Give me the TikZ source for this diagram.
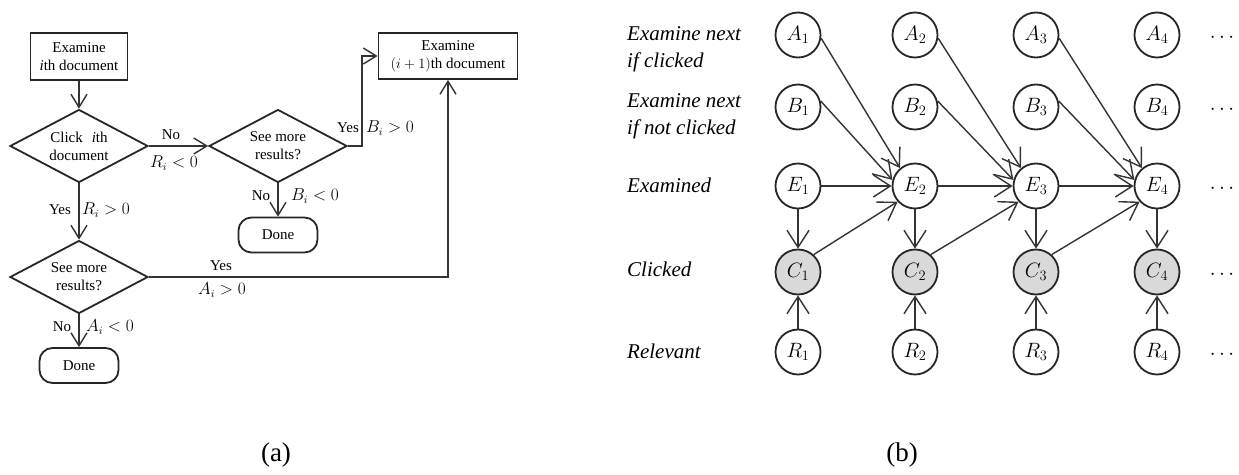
\documentclass[tikz,border=0pt]{standalone}
\usepackage{fontspec}
\setmainfont{Liberation Serif}
\usetikzlibrary{shapes.geometric,arrows.meta}
\newcommand{\flowfont}{\fontsize{15}{18}\selectfont}
\newcommand{\mathlabelfont}{\fontsize{16}{18}\selectfont}
\newcommand{\rowfont}{\fontsize{21}{27}\selectfont\itshape}
\newcommand{\varfont}{\fontsize{22}{22}\selectfont}
\newcommand{\capfont}{\fontsize{27}{27}\selectfont}
\begin{document}
\begin{tikzpicture}[x=1pt,y=-1pt,
  ink/.style={draw=black!85, line width=1.8pt},
  procbox/.style={ink, rectangle, align=center, inner sep=0pt, font=\flowfont},
  decision/.style={ink, diamond, shape aspect=1.9, align=center, inner sep=0pt,
    minimum width=138pt, minimum height=73pt, font=\flowfont},
  endbox/.style={ink, rectangle, rounded corners=13pt, inner sep=0pt,
    minimum width=79pt, minimum height=35pt, font=\flowfont},
  elabel/.style={inner sep=0pt, font=\flowfont},
  mlabel/.style={inner sep=0pt, font=\mathlabelfont},
  farrow/.style={draw=black!80, line width=1.4pt,
    -{Straight Barb[length=13pt,width=16pt]}},
  var/.style={ink, circle, minimum size=45pt, inner sep=0pt, font=\varfont},
  barrow/.style={draw=black!80, line width=1.4pt,
    -{Straight Barb[length=17pt,width=22pt]}},
  rowlabel/.style={anchor=west, align=left, inner sep=0pt, font=\rowfont},
  dotlabel/.style={inner sep=0pt, font=\varfont},
  caption/.style={inner sep=0pt, font=\capfont}]
\useasboundingbox (0,0) rectangle (1239,474);

% ---- (a) flowchart of the click model ----
\node[procbox, minimum width=97pt, minimum height=47pt] (exi) at (79,56.5)
  {Examine\\\textit{i}th document};
\node[decision] (click) at (79,146) {Click\hspace{0.6em}\textit{i}th\\document};
\node[decision] (moreB) at (278,146) {See more\\results?};
\node[procbox, minimum width=139pt, minimum height=46pt] (exn) at (448,56)
  {Examine\\$(i+1)$th document};
\node[endbox] (doneB) at (278,235) {Done};
\node[decision] (moreA) at (79,277) {See more\\results?};
\node[endbox] (doneA) at (79,365.5) {Done};

\coordinate (bend1) at (362,146);
\draw[farrow] (exi) -- (click);
\draw[farrow] (click) -- (moreB);
\draw[farrow] (moreB.east) -- (bend1) |- (exn.west);
\draw[farrow] (moreB) -- (doneB);
\draw[farrow] (click) -- (moreA);
\draw[farrow] (moreA.east) -| (exn.south);
\draw[farrow] (moreA) -- (doneA);

\node[elabel] (lNo1) at (171,135) {No};
\node[mlabel] (lR1) at (174,163) {$R_i<0$};
\node[elabel] (lYes2) at (348,128) {Yes};
\node[mlabel] (lB1) at (390,128) {$B_i>0$};
\node[elabel] (lNo2) at (261,196) {No};
\node[mlabel] (lB2) at (315,196) {$B_i<0$};
\node[elabel] (lYes1) at (60,210) {Yes};
\node[mlabel] (lR2) at (106,210) {$R_i>0$};
\node[elabel] (lYes3) at (221,266) {Yes};
\node[mlabel] (lA1) at (222,290) {$A_i>0$};
\node[elabel] (lNo3) at (62,327) {No};
\node[mlabel] (lA2) at (110,327) {$A_i<0$};

% ---- (b) graphical model ----
\node[rowlabel] (lab1) at (627,49) {Examine next\\if clicked};
\node[rowlabel] (lab2) at (627,116) {Examine next\\if not clicked};
\node[rowlabel] (lab3) at (627,185) {Examined};
\node[rowlabel] (lab4) at (627,269) {Clicked};
\node[rowlabel] (lab5) at (627,351) {Relevant};

\foreach \i/\x in {1/798,2/915,3/1036,4/1157} {
  \node[var] (A\i) at (\x,35) {$A_{\i}$};
  \node[var] (B\i) at (\x,107) {$B_{\i}$};
  \node[var] (E\i) at (\x,186) {$E_{\i}$};
  \node[var, fill=gray!30] (C\i) at (\x,272) {$C_{\i}$};
  \node[var] (R\i) at (\x,352) {$R_{\i}$};
}
\foreach \r/\y in {A/35,B/107,E/186,C/272,R/352}
  \node[dotlabel] (dots\r) at (1222,\y+3) {$\cdots$};

\foreach \i/\j in {1/2,2/3,3/4} {
  \draw[barrow] (A\i.-8) -- (E\j.130);
  \draw[barrow] (B\i.15) -- (E\j.165);
  \draw[barrow] (E\i) -- (E\j);
  \draw[barrow] (C\i.48) -- (E\j.222);
}
\foreach \i in {1,...,4} {
  \draw[barrow] (E\i) -- (C\i);
  \draw[barrow] (R\i) -- (C\i);
}

\node[caption] (capA) at (276,455) {(a)};
\node[caption] (capB) at (902,455) {(b)};
\end{tikzpicture}
\end{document}
